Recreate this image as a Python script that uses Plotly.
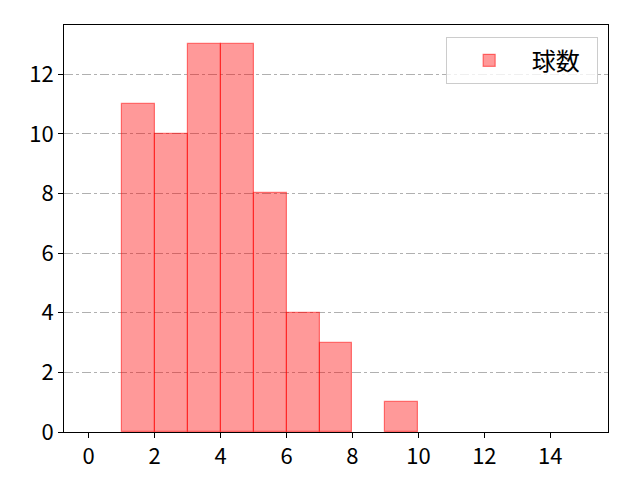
import plotly.graph_objects as go

bin_left = [1, 2, 3, 4, 5, 6, 7, 9]
counts = [11, 10, 13, 13, 8, 4, 3, 1]
series_name = "球数"
x_ticks = [0, 2, 4, 6, 8, 10, 12, 14]
y_ticks = [0, 2, 4, 6, 8, 10, 12]

fig = go.Figure()
fig.add_trace(go.Bar(
    x=bin_left, y=counts, width=1, offset=0, name=series_name,
    marker=dict(color="rgba(255,0,0,0.4)",
                line=dict(color="rgba(255,0,0,0.5)", width=1.2)),
    showlegend=True,
))

font = "Noto Sans CJK JP, DejaVu Sans, sans-serif"
fig.update_layout(
    width=640, height=480,
    margin=dict(l=56, r=40, t=17, b=56),
    paper_bgcolor="white", plot_bgcolor="white",
    font=dict(family=font, size=22, color="black"),
    bargap=0,
    showlegend=True,
    legend=dict(x=0.981, y=0.97, xanchor="right", yanchor="top",
                orientation="h",
                bgcolor="rgba(255,255,255,0.8)", bordercolor="#cccccc",
                borderwidth=1, font=dict(size=24), entrywidth=60,
                itemwidth=75),
    xaxis=dict(range=[-0.75, 15.75], tickvals=x_ticks, showgrid=False,
               zeroline=False, showline=True, linecolor="black",
               linewidth=1, mirror=True, ticks="outside", ticklen=5,
               tickcolor="black"),
    yaxis=dict(range=[0, 13.65], tickvals=y_ticks, showgrid=True,
               gridcolor="#b0b0b0", griddash="dashdot", gridwidth=0.8,
               zeroline=False, showline=True, linecolor="black",
               linewidth=1, mirror=True, ticks="outside", ticklen=5,
               tickcolor="black"),
)

fig.write_html("out.html")
